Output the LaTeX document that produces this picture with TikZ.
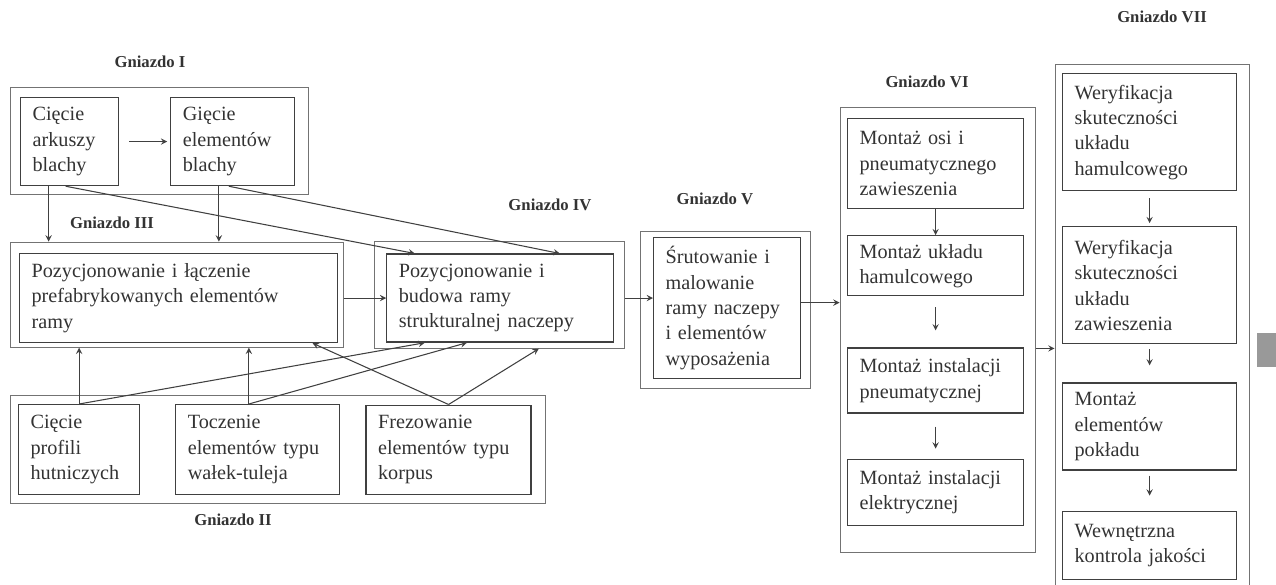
\documentclass[tikz,border=0pt]{standalone}
\usepackage{fontspec}
\setmainfont{Liberation Serif}
\usetikzlibrary{arrows, positioning, fit}

\begin{document}
\begin{tikzpicture}[
    node distance = 1cm and 1cm,
    box/.style = {rectangle, draw=black!75, line width=0.7pt, text=black!80, align=left, inner xsep=0.24cm, inner ysep=0pt, font=\fontsize{11.5}{14.4}\selectfont, anchor=north west},
    cellbox/.style = {rectangle, draw=black!55, line width=0.5pt, inner sep=0pt},
    tag/.style = {font=\bfseries\fontsize{9.5}{11}\selectfont, text=black!80},
    arrow/.style = {->, >=stealth, draw=black!75, line width=0.6pt}
]
\path[use as bounding box, fill=white] (0,0) rectangle (25.52,-11.7);

% Gniazdo I
\node[box, text width=1.48cm, minimum height=1.76cm] (A1) at (0.40,-1.94) {Cięcie\\arkuszy\\blachy};
\node[box, text width=2.00cm, minimum height=1.76cm, right=1.02cm of A1] (A2) {Gięcie\\elementów\\blachy};

% Gniazdo III and IV
\node[box, text width=5.88cm, minimum height=1.78cm] (B1) at (0.38,-5.06) {Pozycjonowanie i łączenie\\prefabrykowanych elementów\\ramy};
\node[box, text width=4.06cm, minimum height=1.76cm, right=0.96cm of B1] (B2) {Pozycjonowanie i\\budowa ramy\\strukturalnej naczepy};

% Gniazdo II
\node[box, text width=1.94cm, minimum height=1.80cm] (C1) at (0.36,-8.08) {Cięcie\\profili\\hutniczych};
\node[box, text width=2.80cm, minimum height=1.80cm, right=0.70cm of C1] (C2) {Toczenie\\elementów typu\\wałek-tuleja};
\node[box, text width=2.82cm, minimum height=1.78cm, right=0.50cm of C2] (C3) {Frezowanie\\elementów typu\\korpus};

% Gniazdo V
\node[box, text width=2.46cm, minimum height=2.82cm] (D) at (13.06,-4.74) {Śrutowanie i\\malowanie\\ramy naczepy\\i elementów\\wyposażenia};

% Gniazdo VI
\node[box, text width=3.04cm, minimum height=1.80cm] (E1) at (16.94,-2.36) {Montaż osi i\\pneumatycznego\\zawieszenia};
\node[box, text width=3.04cm, minimum height=1.20cm, below=0.52cm of E1] (E2) {Montaż układu\\hamulcowego};
\node[box, text width=3.04cm, minimum height=1.30cm, below=1.02cm of E2] (E3) {Montaż instalacji\\pneumatycznej};
\node[box, text width=3.04cm, minimum height=1.32cm, below=0.90cm of E3] (E4) {Montaż instalacji\\elektrycznej};

% Gniazdo VII
\node[box, text width=3.00cm, minimum height=2.34cm] (F1) at (21.24,-1.46) {Weryfikacja\\skuteczności\\układu\\hamulcowego};
\node[box, text width=3.00cm, minimum height=2.34cm, below=0.70cm of F1] (F2) {Weryfikacja\\skuteczności\\układu\\zawieszenia};
\node[box, text width=3.00cm, minimum height=1.74cm, below=0.76cm of F2] (F3) {Montaż\\elementów\\pokładu};
\node[box, text width=3.00cm, minimum height=1.36cm, below=0.80cm of F3] (F4) {Wewnętrzna\\kontrola jakości};

% outer boxes
\node[cellbox, fit={([shift={(-0.20,0.20)}]A1.north west) ([shift={(0.26,-0.16)}]A2.south east)}] (G1) {};
\node[cellbox, fit={([shift={(-0.18,0.22)}]B1.north west) ([shift={(0.10,-0.08)}]B1.south east)}] (G3) {};
\node[cellbox, fit={([shift={(-0.24,0.24)}]B2.north west) ([shift={(0.20,-0.11)}]B2.south east)}] (G4) {};
\node[cellbox, fit={([shift={(-0.16,0.18)}]C1.north west) ([shift={(0.28,-0.17)}]C3.south east)}] (G2) {};
\node[cellbox, fit={([shift={(-0.26,0.12)}]D.north west) ([shift={(0.18,-0.18)}]D.south east)}] (G5) {};
\node[cellbox, fit={([shift={(-0.14,0.22)}]E1.north west) ([shift={(0.22,-0.54)}]E4.south east)}] (G6) {};
\node[cellbox, fit={([shift={(-0.14,0.18)}]F1.north west) ([shift={(0.24,-0.40)}]F4.south east)}] (G7) {};

% labels
\node[tag] (g1) at (3.00,-1.24) {Gniazdo I};
\node[tag] (g2) at (4.66,-10.40) {Gniazdo II};
\node[tag] (g3) at (2.24,-4.46) {Gniazdo III};
\node[tag] (g4) at (11.00,-4.10) {Gniazdo IV};
\node[tag] (g5) at (14.30,-3.98) {Gniazdo V};
\node[tag] (g6) at (18.54,-1.64) {Gniazdo VI};
\node[tag] (g7) at (23.24,-0.34) {Gniazdo VII};

% next stage
\node[fill=black!40, minimum width=0.40cm, minimum height=0.68cm, inner sep=0pt, anchor=north west] (next) at (25.14,-6.66) {};

% arrows
\draw[arrow, shorten <=0.2cm, shorten >=0.06cm] (A1) -- (A2);
\draw[arrow] ([xshift=-0.42cm]A1.south) -- ([xshift=-0.42cm]A1.south |- G3.north);
\draw[arrow] ([xshift=-0.28cm]A2.south) -- ([xshift=-0.28cm]A2.south |- G3.north);
\draw[arrow] ([xshift=-0.08cm]A1.south) -- ([xshift=-1.71cm]B2.north);
\draw[arrow] ([xshift=-0.08cm]A2.south) -- ([xshift=1.19cm]B2.north);
\draw[arrow] (B1.east -| G3.east) -- (B1.east -| B2.west);
\draw[arrow] (B2.east -| G4.east) -- (B2.east -| D.west);
\draw[arrow] ([yshift=0.11cm]D.east) -- ([yshift=0.11cm]D.east -| G6.west);
\draw[arrow] ([yshift=-0.37cm]G6.east) -- ([yshift=-0.37cm]G6.east -| G7.west);

\draw[arrow] (C1.north) -- (C1.north |- G3.south);
\draw[arrow] ([xshift=-0.18cm]C2.north) -- ([xshift=-0.18cm]C2.north |- G3.south);
\draw[arrow] (C1.north) -- ([xshift=-1.51cm]B2.south);
\draw[arrow] ([xshift=-0.18cm]C2.north) -- ([xshift=-0.67cm]B2.south);
\draw[arrow] (C3.north) -- ([xshift=2.68cm]B1.south);
\draw[arrow] (C3.north) -- ([xshift=0.79cm]G4.south);

\draw[arrow] (E1) -- (E2);
\draw[arrow, shorten <=0.22cm, shorten >=0.34cm] (E2) -- (E3);
\draw[arrow, shorten <=0.26cm, shorten >=0.20cm] (E3) -- (E4);
\draw[arrow, shorten <=0.14cm, shorten >=0.06cm] (F1) -- (F2);
\draw[arrow, shorten <=0.10cm, shorten >=0.34cm] (F2) -- (F3);
\draw[arrow, shorten <=0.10cm, shorten >=0.30cm] (F3) -- (F4);

\end{tikzpicture}
\end{document}
